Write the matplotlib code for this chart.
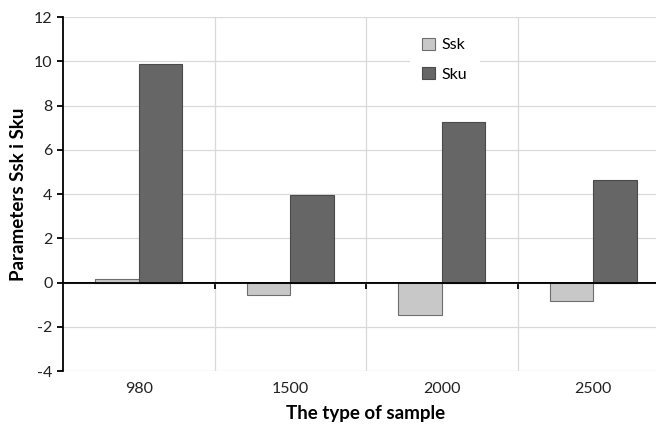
import matplotlib.pyplot as plt
import numpy as np

plt.rcParams['font.family'] = ['Lato', 'DejaVu Sans']
plt.rcParams['axes.unicode_minus'] = False

samples = ['980', '1500', '2000', '2500']
ssk = [0.18, -0.57, -1.48, -0.85]
sku = [9.9, 3.98, 7.28, 4.63]

fig = plt.figure(figsize=(6.56, 4.30), dpi=100)
ax = fig.add_axes([0.096, 0.137, 0.924, 0.823])

x = np.arange(len(samples))
w = 0.286
ax.bar(x - w / 2, ssk, w, color='#c8c8c8', edgecolor='#6e6e6e', linewidth=0.8, label='Ssk', zorder=3)
ax.bar(x + w / 2, sku, w, color='#666666', edgecolor='#4a4a4a', linewidth=0.8, label='Sku', zorder=3)

ax.set_xlim(-0.5, len(samples) - 0.5)
ax.set_ylim(-4, 12)
ax.set_yticks(np.arange(-4, 13, 2))

# grid: horizontal at every major y tick, vertical between categories
ax.yaxis.grid(True, color='#d9d9d9', linewidth=0.9, zorder=0)
for b in np.arange(0.5, len(samples) - 0.5, 1):
    ax.axvline(b, color='#d9d9d9', linewidth=0.9, zorder=0)

for s in ['top', 'right', 'bottom']:
    ax.spines[s].set_visible(False)
ax.spines['left'].set_linewidth(1.3)

ax.set_xticks(x)
ax.set_xticklabels(samples)
ax.tick_params(axis='x', length=0, pad=8, labelsize=11.5, colors='#222222')
ax.tick_params(axis='y', length=4, width=1.3, labelsize=11.5, labelcolor='#222222')

# zero line with category separator ticks
ax.axhline(0, color='black', linewidth=1.3, zorder=4)
sec = ax.secondary_xaxis(0.25)
sec.set_xticks(np.arange(0.5, len(samples), 1))
sec.set_xticklabels([])
sec.tick_params(length=4, width=1.3)
sec.spines['bottom'].set_linewidth(1.3)

ax.set_xlabel('The type of sample', fontsize=13.5, fontweight='bold', labelpad=6)
ax.set_ylabel('Parameters Ssk i Sku', fontsize=13.5, fontweight='bold', labelpad=5)

leg = ax.legend(loc='center', bbox_to_anchor=(0.63, 0.88), frameon=True,
                fontsize=11.5, labelspacing=0.9, handlelength=0.8, handleheight=0.8,
                handletextpad=0.4, borderpad=0.8)
leg.get_frame().set_edgecolor('none')
leg.get_frame().set_facecolor('white')
leg.get_frame().set_alpha(1)

fig.savefig('out.png', dpi=100)
